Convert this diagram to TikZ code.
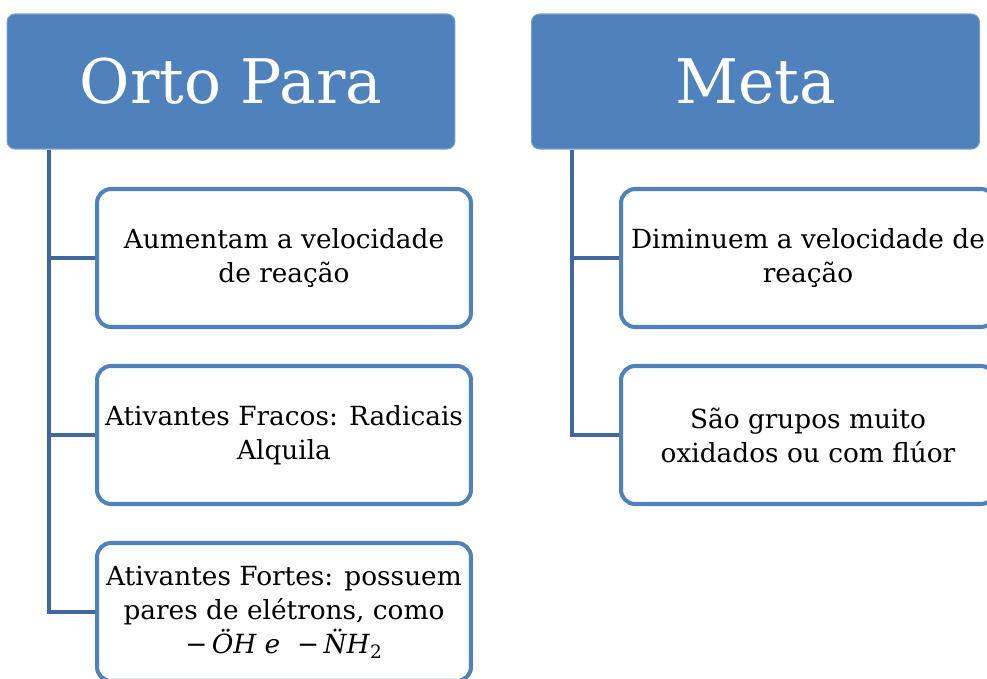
\documentclass[tikz,border=0pt]{standalone}
\usepackage{fontspec}
\setmainfont{DejaVu Serif}
\usepackage{tikz}
\usetikzlibrary{calc,positioning}
\definecolor{orgBlue}{RGB}{79,129,189}
\definecolor{orgBlueDark}{RGB}{65,104,156}
\definecolor{orgBlueLight}{RGB}{122,156,203}

\begin{document}
\begin{tikzpicture}[x=0.02cm,y=-0.02cm,
  header/.style={fill=orgBlue, draw=orgBlueLight, line width=0.6pt, rounded corners=0.16cm,
    minimum width=8.96cm, minimum height=2.7cm, text=white, font=\fontsize{35}{42}\selectfont},
  itembox/.style={draw=orgBlue, fill=white, line width=2.3pt, rounded corners=0.28cm,
    minimum width=7.48cm, minimum height=2.76cm, align=center, font=\fontsize{15}{19.3}\selectfont},
  branch/.style={draw=orgBlueDark, line width=2.3pt}]
\clip (0,0) rectangle (987,679);

% headers
\node[header] (orto) at (231,81.5) {Orto Para};
\node[header] (meta) at (755.5,81.5) {Meta};

% trunks
\coordinate (ortoTrunk) at ($(orto.south west)+(42.5,0)$);
\coordinate (metaTrunk) at ($(meta.south west)+(41,0)$);

% items
\node[itembox] (a1) at (284,258) {Aumentam a velocidade\\de reação};
\node[itembox] (a2) at (284,435) {Ativantes Fracos: Radicais\\Alquila};
\node[itembox] (a3) at (284,612) {Ativantes Fortes: possuem\\pares de elétrons, como\\−\,\textit{\"{O}H e}\ \ −\,\textit{\"{N}H}\textsubscript{2}};
\node[itembox] (m1) at (808,258) {Diminuem a velocidade de\\reação};
\node[itembox] (m2) at (808,435) {São grupos muito\\oxidados ou com flúor};

% connectors
\draw[branch] (ortoTrunk) |- (a3.west);
\draw[branch] (ortoTrunk |- a1.west) -- (a1.west);
\draw[branch] (ortoTrunk |- a2.west) -- (a2.west);
\draw[branch] (metaTrunk) |- (m2.west);
\draw[branch] (metaTrunk |- m1.west) -- (m1.west);
\end{tikzpicture}
\end{document}
